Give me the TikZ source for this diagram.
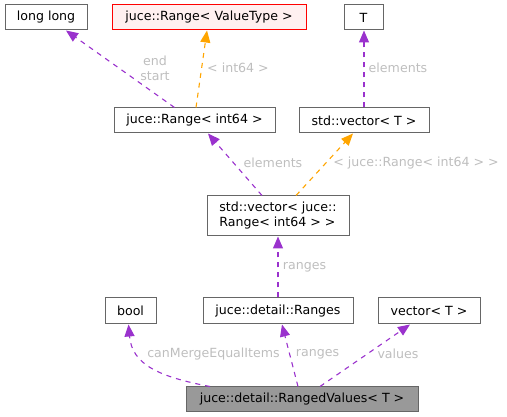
\documentclass[tikz,border=0pt]{standalone}
\usepackage{fontspec}
\setmainfont{DejaVu Sans}
\usetikzlibrary{arrows.meta}
\definecolor{edgepurple}{HTML}{9A32CD}
\definecolor{edgeorange}{HTML}{FFA500}
\definecolor{boxgray}{HTML}{666666}
\definecolor{lblgray}{HTML}{BEBEBE}
\definecolor{pinkfill}{HTML}{FFF0F0}
\definecolor{darkfill}{HTML}{999999}
\tikzset{
  cls/.style={draw=boxgray, line width=1pt, fill=white, rectangle, inner sep=0pt, font=\fontsize{12.6}{15}\selectfont},
  rel/.style={draw=edgepurple, line width=1.1pt, dash pattern=on 5pt off 5pt, -{Triangle[length=12pt,width=10pt]}},
  tmpl/.style={draw=edgeorange, line width=1.1pt, dash pattern=on 5pt off 5pt, -{Triangle[length=12pt,width=10pt]}, },
  lbl/.style={text=lblgray, inner sep=0pt, font=\fontsize{12.6}{15}\selectfont, align=center}
}
\begin{document}
\begin{tikzpicture}[x=1pt,y=-1pt]
\useasboundingbox (0,0) rectangle (507,417);
% nodes
\node[cls, minimum width=82pt, minimum height=25pt] (ll) at (46,17.5) {long long};
\node[cls, draw=red, fill=pinkfill, minimum width=194pt, minimum height=25pt] (rv) at (209,17.5) {juce::Range< ValueType >};
\node[cls, minimum width=39pt, minimum height=25pt] (T) at (363.5,17.5) {T};
\node[cls, minimum width=161pt, minimum height=25pt] (ri) at (194.5,120.5) {juce::Range< int64 >};
\node[cls, minimum width=130pt, minimum height=25pt] (sv) at (364,120.5) {std::vector< T >};
\node[cls, minimum width=142pt, minimum height=40pt, align=left] (vr) at (278,216) {std::vector< juce::\\Range< int64 > >};
\node[cls, minimum width=51pt, minimum height=26pt] (bo) at (130.5,311) {bool};
\node[cls, minimum width=150pt, minimum height=26pt] (rg) at (278,311) {juce::detail::Ranges};
\node[cls, minimum width=102pt, minimum height=26pt] (vt) at (429,311) {vector< T >};
\node[cls, fill=darkfill, minimum width=232pt, minimum height=25pt] (rvn) at (302,399.5) {juce::detail::RangedValues< T >};
% edges
\draw[rel] ([xshift=-20pt]ri.north) -- ([xshift=20pt]ll.south);
\draw[tmpl] ([xshift=1.5pt]ri.north) -- ([xshift=-2pt]rv.south);
\draw[rel] (sv.north) -- (sv.north |- T.south);
\draw[rel] ([xshift=-16pt]vr.north) -- ([xshift=13.5pt]ri.south);
\draw[tmpl] ([xshift=18pt]vr.north) -- ([xshift=-11pt]sv.south);
\draw[rel] (rg.north) -- (vr.south);
\draw[rel] ([xshift=-92pt]rvn.north) .. controls (160,377) and (132,365) .. ([xshift=-2pt]bo.south);
\draw[rel] ([xshift=-4pt]rvn.north) -- ([xshift=4pt]rg.south);
\draw[rel] ([xshift=18pt]rvn.north) -- ([xshift=-19pt]vt.south);
% labels
\node[lbl] (l1) at (155,68.5) {end\\start};
\node[lbl] (l2) at (238,68) {< int64 >};
\node[lbl] (l3) at (398,68) {elements};
\node[lbl] (l4) at (273,163) {elements};
\node[lbl] (l5) at (416,163) {< juce::Range< int64 > >};
\node[lbl] (l6) at (304.5,267) {ranges};
\node[lbl] (l7) at (213.5,354) {canMergeEqualItems};
\node[lbl] (l8) at (317.5,354) {ranges};
\node[lbl] (l9) at (398,354) {values};
\end{tikzpicture}
\end{document}
